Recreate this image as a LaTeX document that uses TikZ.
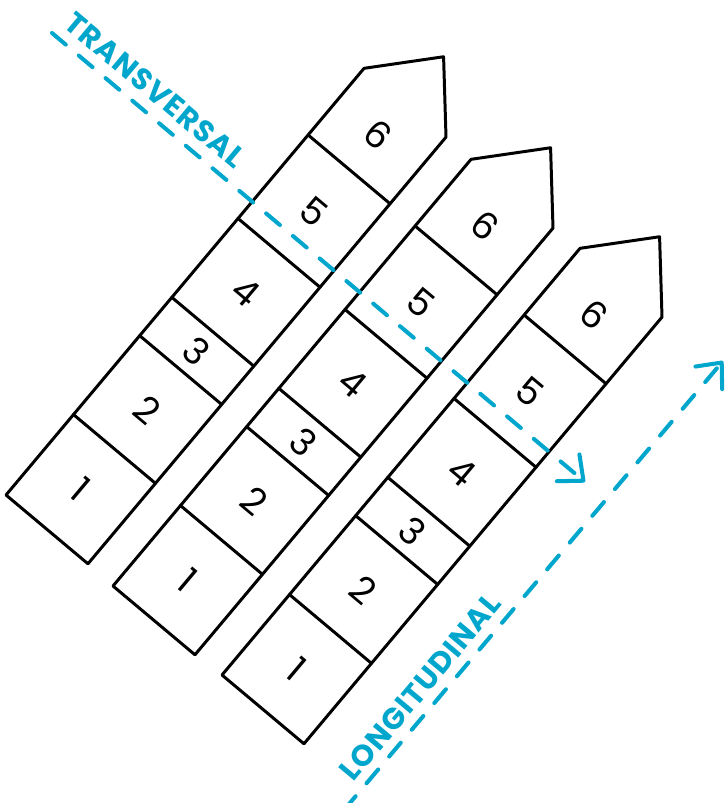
\documentclass[tikz,border=0pt]{standalone}
\usepackage{fontspec}
\setsansfont{Poppins}
\usetikzlibrary{arrows.meta}

\definecolor{guide}{RGB}{0,166,204}

\begin{document}
\begin{tikzpicture}[x=0.2mm, y=-0.2mm, >={Straight Barb[length=4mm, width=7mm, round]},
  box/.style={draw=black, fill=white, line width=1.7pt, line join=round},
  rung/.style={draw=black, line width=1.7pt, line cap=round},
  num/.style={font=\sffamily\fontsize{21}{21}\selectfont, rotate=-40},
  guideline/.style={guide, line width=2.3pt, line cap=round, dash pattern=on 3.6mm off 3.4mm},
  tag/.style={guide, font=\sffamily\bfseries\fontsize{17}{17}\selectfont\addfontfeature{LetterSpace=4}}]
  \useasboundingbox (0,0) rectangle (726,803);

  % three strips, same cells in each
  \foreach \n/\ox/\oy in {a/6/495, b/113/586, c/222/675} {
    \begin{scope}[shift={(\ox,\oy)}, rotate=50]
      \draw[box] (0,0) -- (557,0) -- (617,53.5) -- (557,107) -- (0,107) -- cycle;
      \foreach \s in {105,208,258,361,470}
        \draw[rung] (\s,0) -- (\s,107);
      \foreach \k/\c in {1/52,2/156,3/233,4/310,5/415,6/515}
        \node[num] (\n\k) at (\c,53.5) {\k};
    \end{scope}
  }

  % across the strips
  \coordinate (tstart) at (52,33);
  \coordinate (tend) at (585,482);
  \draw[guideline, ->] (tstart) -- (tend);
  \node[tag, rotate=-40] (ttag) at (155,90) {TRANSVERSAL};

  % along the strips
  \coordinate (lstart) at (344,810);
  \coordinate (lend) at (723,361);
  \draw[guideline, ->] (lstart) -- (lend);
  \node[tag, rotate=50] (ltag) at (420,687) {LONGITUDINAL};
\end{tikzpicture}
\end{document}
